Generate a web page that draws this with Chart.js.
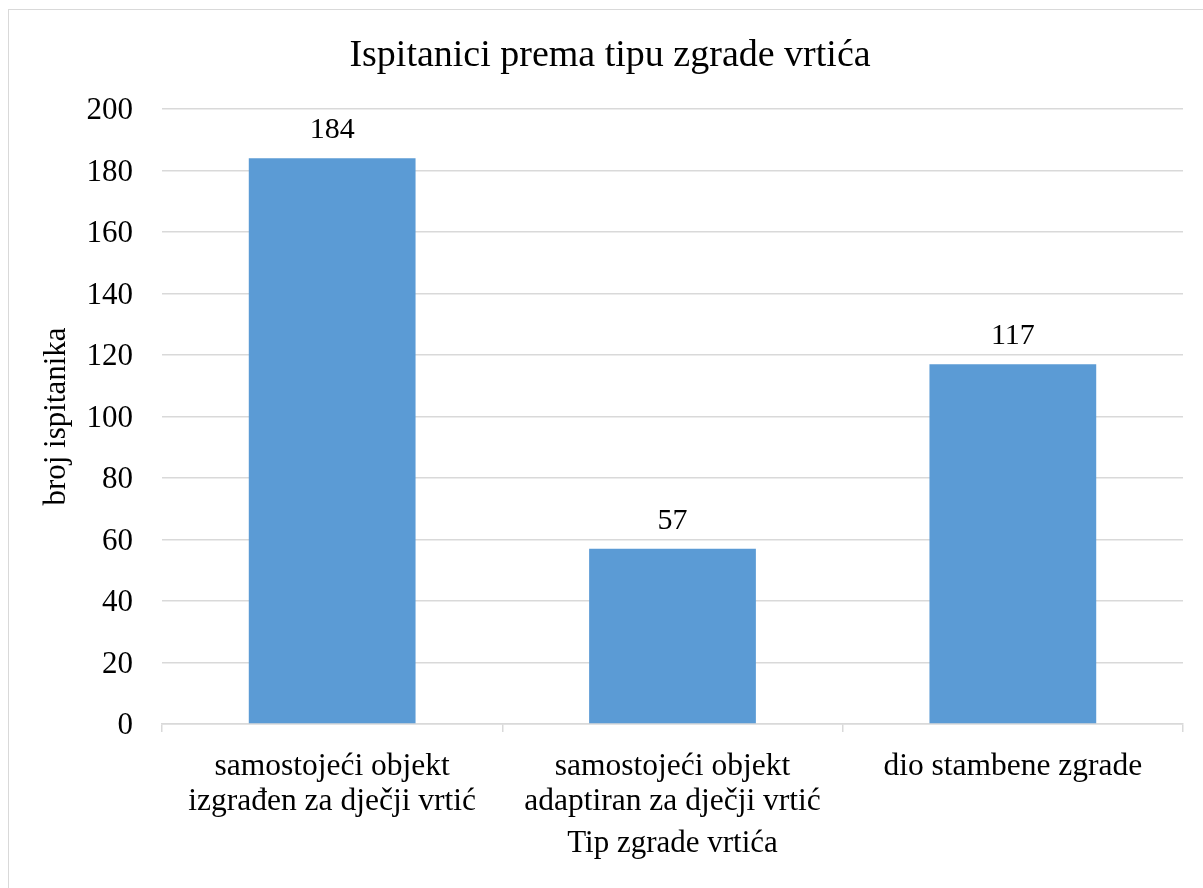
<!DOCTYPE html>
<html>
<head>
<meta charset="utf-8">
<script src="https://cdn.jsdelivr.net/npm/chart.js@4/dist/chart.umd.min.js"></script>
<style>
  html, body { margin: 0; padding: 0; background: #fff; overflow: hidden; }
  #frame { position: absolute; left: 8px; top: 9px; width: 1300px; height: 1000px; border: 1.5px solid #d9d9d9; box-sizing: border-box; }
  #wrap { position: absolute; left: 0; top: 0; width: 1203px; height: 888px; }
</style>
</head>
<body>
<div id="frame"></div>
<div id="wrap"><canvas id="c" width="1203" height="888"></canvas></div>
<script>
const chartTitle = 'Ispitanici prema tipu zgrade vrtića';
const categories = [
  ['samostojeći objekt', 'izgrađen za dječji vrtić'],
  ['samostojeći objekt', 'adaptiran za dječji vrtić'],
  'dio stambene zgrade'
];
const counts = [184, 57, 117];
const yTicks = [0, 20, 40, 60, 80, 100, 120, 140, 160, 180, 200];
const xAxisTitle = 'Tip zgrade vrtića';
const yAxisTitle = 'broj ispitanika';

const FONT = '"Liberation Serif", "Times New Roman", serif';

const titlePlugin = {
  id: 'customTitle',
  afterDraw(chart) {
    const ctx = chart.ctx;
    ctx.save();
    ctx.font = '38px ' + FONT;
    ctx.fillStyle = '#000';
    ctx.textAlign = 'center';
    ctx.textBaseline = 'middle';
    ctx.fillText(chartTitle, 610, 56);
    ctx.restore();
  }
};

const labelPlugin = {
  id: 'barLabels',
  afterDatasetsDraw(chart) {
    const ctx = chart.ctx;
    const meta = chart.getDatasetMeta(0);
    ctx.save();
    ctx.font = '30px ' + FONT;
    ctx.fillStyle = '#000';
    ctx.textAlign = 'center';
    ctx.textBaseline = 'middle';
    meta.data.forEach((bar, i) => {
      ctx.fillText(String(counts[i]), bar.x, bar.y - 28);
    });
    ctx.restore();
  }
};

new Chart(document.getElementById('c'), {
  type: 'bar',
  data: {
    labels: categories,
    datasets: [{
      data: counts,
      backgroundColor: '#5b9bd5',
      borderWidth: 0,
      categoryPercentage: 1.0,
      barPercentage: 0.49
    }]
  },
  options: {
    responsive: false,
    animation: false,
    devicePixelRatio: 1,
    layout: { padding: { top: 109, right: 20, left: 0, bottom: 0 } },
    plugins: {
      legend: { display: false },
      tooltip: { enabled: false },
      title: { display: false }
    },
    scales: {
      x: {
        afterFit(scale) { scale.height = 164; },
        grid: {
          display: true,
          drawOnChartArea: false,
          drawTicks: true,
          tickLength: 8,
          color: '#d9d9d9',
          lineWidth: 1.5,
          offset: true
        },
        border: { display: true, color: '#d9d9d9', width: 1.5 },
        ticks: {
          color: '#000',
          font: { family: FONT, size: 31.5, lineHeight: 1.12 },
          padding: 17,
          maxRotation: 0,
          autoSkip: false
        },
        title: {
          display: true,
          text: xAxisTitle,
          color: '#000',
          font: { family: FONT, size: 31 },
          padding: { top: 0, bottom: 26 }
        }
      },
      y: {
        min: 0,
        max: 200,
        afterFit(scale) { scale.width = 162; },
        afterBuildTicks(scale) { scale.ticks = yTicks.map(v => ({ value: v })); },
        grid: {
          color: '#d9d9d9',
          lineWidth: 1.5,
          drawTicks: false
        },
        border: { display: false },
        ticks: {
          color: '#000',
          font: { family: FONT, size: 31 },
          padding: 29,
          labelOffset: 2
        },
        title: {
          display: true,
          text: yAxisTitle,
          color: '#000',
          font: { family: FONT, size: 31 },
          padding: { top: 38, bottom: 0 }
        }
      }
    }
  },
  plugins: [titlePlugin, labelPlugin]
});
</script>
</body>
</html>
